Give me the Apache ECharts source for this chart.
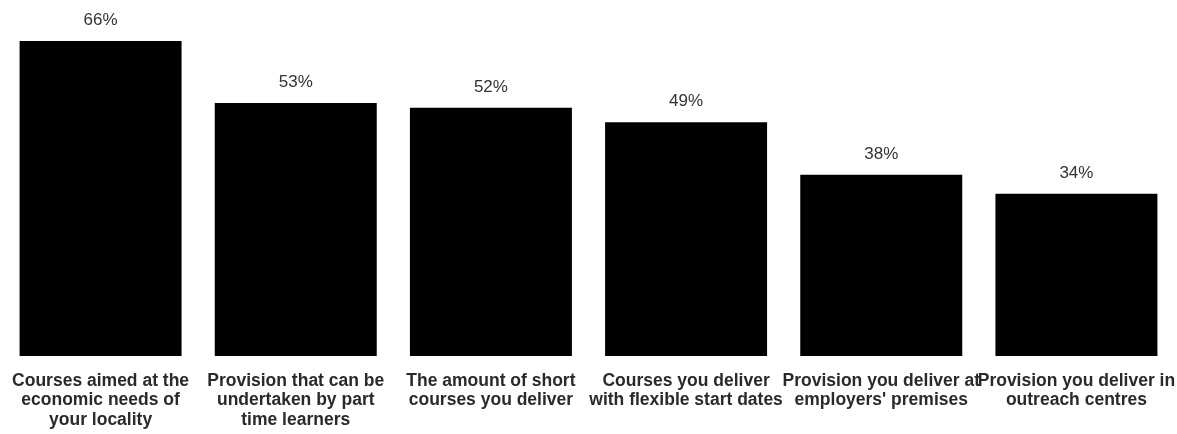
<!DOCTYPE html>
<html>
<head>
<meta charset="utf-8">
<script src="https://cdn.jsdelivr.net/npm/echarts@6/dist/echarts.min.js"></script>
<style>
  html, body { margin: 0; padding: 0; background: #ffffff; }
  #chart { width: 1177px; height: 434px; }
</style>
</head>
<body>
<div id="chart"></div>
<script>
// Share of providers reporting each type of provision
const categories = [
  'Courses aimed at the\neconomic needs of\nyour locality',
  'Provision that can be\nundertaken by part\ntime learners',
  'The amount of short\ncourses you deliver',
  'Courses you deliver\nwith flexible start dates',
  'Provision you deliver at\nemployers\' premises',
  'Provision you deliver in\noutreach centres'
];
const percentages = [66, 53, 52, 49, 38, 34];

const chart = echarts.init(document.getElementById('chart'), null, { renderer: 'canvas' });

chart.setOption({
  animation: false,
  backgroundColor: '#ffffff',
  grid: {
    left: 3, right: 3, top: 41, bottom: 78,
    containLabel: false,
    outerBoundsMode: 'none'
  },
  xAxis: {
    type: 'category',
    data: categories,
    axisLine: { show: false },
    axisTick: { show: false },
    axisLabel: {
      interval: 0,
      margin: 15,
      fontFamily: 'Liberation Sans, Arial, sans-serif',
      fontSize: 17.5,
      fontWeight: 'bold',
      lineHeight: 19.5,
      color: '#2a2a2a'
    }
  },
  yAxis: {
    type: 'value',
    min: 0,
    max: 66,
    show: false,
    splitLine: { show: false }
  },
  series: [{
    type: 'bar',
    data: percentages,
    barCategoryGap: '17%',
    itemStyle: { color: '#000000' },
    label: {
      show: true,
      position: 'top',
      distance: 12,
      formatter: '{c}%',
      fontFamily: 'Liberation Sans, Arial, sans-serif',
      fontSize: 17,
      color: '#333333'
    }
  }]
});
</script>
</body>
</html>
